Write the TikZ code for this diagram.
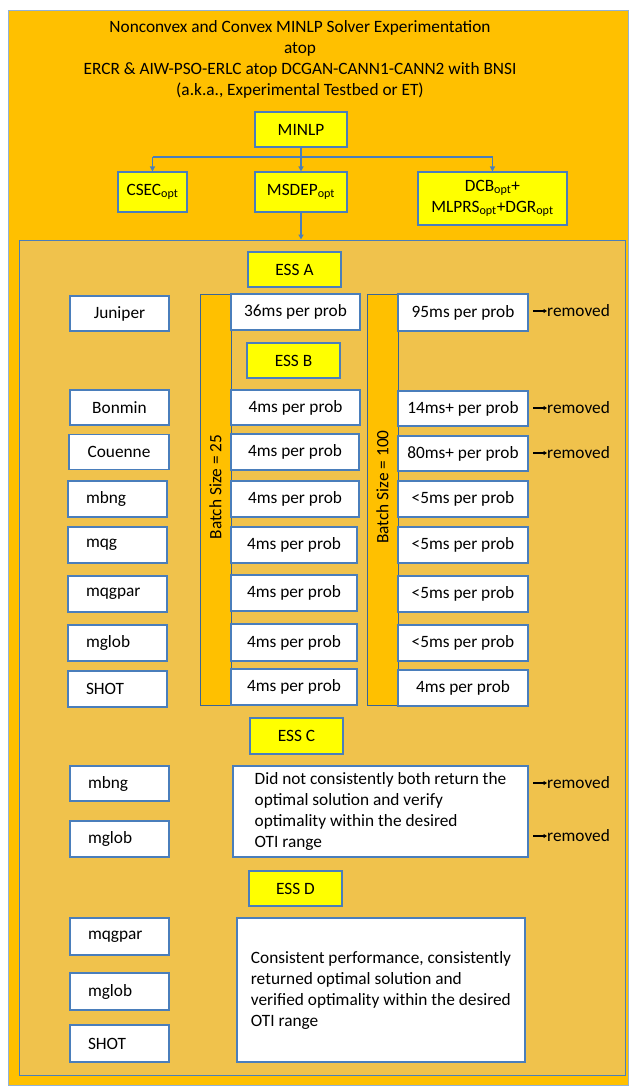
\documentclass[tikz,border=0pt]{standalone}
\usepackage{fontspec}
\setmainfont{Carlito}
\usetikzlibrary{arrows.meta}
\definecolor{outerfill}{HTML}{FFC000}
\definecolor{innerfill}{HTML}{F0C24C}
\definecolor{bluebd}{HTML}{4A7EBB}
\definecolor{ylw}{HTML}{FFFF00}
\begin{document}
\begin{tikzpicture}[x=1pt,y=-1pt,
  font=\fontsize{17.3}{21}\selectfont,
  bx/.style={draw=bluebd,line width=1.1pt,fill=white,inner sep=0pt},
  wh/.style 2 args={minimum width=#1,minimum height=#2},
  ybox/.style={bx,fill=ylw},
  solL/.style={bx,align=left,text width=63pt,inner xsep=18pt,minimum height=36pt},
  solC/.style={bx,align=center,text width=99pt,minimum height=35pt},
  tbox/.style={bx,align=center,minimum height=36pt},
  bar/.style={draw=bluebd!80!black,line width=1pt,fill=outerfill,minimum width=31pt,minimum height=411pt,inner sep=0pt},
  conn/.style={draw=bluebd,line width=1.3pt},
  arr/.style={conn,-{Triangle[length=5pt,width=5pt]}},
  rm/.style={anchor=west,inner sep=0pt},
  rmarr/.style={-{Triangle[length=3.5pt,width=4pt]},line width=1.1pt,black}]
\useasboundingbox (0,0) rectangle (634,1089);
% outer and inner panels
\node[draw=bluebd!60,line width=0.8pt,fill=outerfill,minimum width=620pt,minimum height=1075pt,inner sep=0pt] (outer) at (318,547.5) {};
\node[draw=bluebd,line width=1pt,fill=innerfill,minimum width=606pt,minimum height=835pt,inner sep=0pt] (inner) at (322,657.5) {};
% title
\node[align=center,inner sep=0pt] (title) at (300,59.5) {Nonconvex and Convex MINLP Solver Experimentation\\atop\\ERCR \& AIW-PSO-ERLC atop DCGAN-CANN1-CANN2 with BNSI\\(a.k.a., Experimental Testbed or ET)};
% top tree
\node[ybox,wh={92pt}{35pt}] (minlp) at (301,129.5) {MINLP};
\node[ybox,wh={69pt}{40pt}] (csec) at (152.5,192) {CSEC\textsubscript{opt}};
\node[ybox,wh={92pt}{40pt}] (msdep) at (301,192) {MSDEP\textsubscript{opt}};
\node[ybox,wh={149pt}{53pt},align=center] (dcb) at (492.5,198.5) {DCB\textsubscript{opt}+\\MLPRS\textsubscript{opt}+DGR\textsubscript{opt}};
\coordinate (split) at (301,157);
\coordinate (splitL) at (152.5,157);
\coordinate (splitR) at (492.5,157);
\draw[conn] (minlp.south) -- (split);
\draw[conn] (splitL) -- (splitR);
\draw[arr] (splitL) -- (csec.north);
\draw[arr] (split) -- (msdep.north);
\draw[arr] (splitR) -- (dcb.north);
\draw[arr] (msdep.south) -- (msdep.south |- inner.north);
% bars
\node[bar] (b25) at (215.5,499.5) {};
\node[rotate=90,inner sep=0pt] (b25t) at (215.5,487) {Batch Size = 25};
\node[bar] (b100) at (382.5,499.5) {};
\node[rotate=90,inner sep=0pt] (b100t) at (382.5,487) {Batch Size = 100};
% ESS A
\node[ybox,wh={93pt}{35pt}] (essA) at (294.5,269.5) {ESS A};
\node[solC] (jun) at (119.5,313.5) {Juniper};
\node[tbox,wh={129pt}{36pt}] (jun25) at (295.5,312) {36ms per prob};
\node[tbox,wh={130pt}{37pt}] (jun100) at (463,312.5) {95ms per prob};
% ESS B
\node[ybox,wh={93pt}{35pt}] (essB) at (293.5,360.5) {ESS B};
\node[solC] (bon) at (119.5,407.5) {Bonmin};
\node[tbox,wh={129pt}{35pt}] (bon25) at (295.5,407.5) {4ms per prob};
\node[tbox,wh={130pt}{35pt}] (bon100) at (463,408.5) {14ms+ per prob};
\node[solC,text width=100pt] (cou) at (119,452) {Couenne};
\node[tbox,wh={128pt}{36pt}] (cou25) at (295,452) {4ms per prob};
\node[tbox,wh={130pt}{35pt}] (cou100) at (463,453.5) {80ms+ per prob};
\node[solL] (mbng) at (117.5,499) {mbng};
\node[tbox,wh={128pt}{36pt}] (mbng25) at (295,499) {4ms per prob};
\node[tbox,wh={130pt}{36pt}] (mbng100) at (463,499) {<5ms per prob};
\node[solL] (mqg) at (117.5,545) {mqg};
\node[tbox,wh={126pt}{36pt}] (mqg25) at (294,545) {4ms per prob};
\node[tbox,wh={130pt}{36pt}] (mqg100) at (463,545) {<5ms per prob};
\node[solL] (mqgpar) at (117.5,594) {mqgpar};
\node[tbox,wh={126pt}{36pt}] (mqgpar25) at (294,593) {4ms per prob};
\node[tbox,wh={130pt}{36pt}] (mqgpar100) at (463,594) {<5ms per prob};
\node[solL] (mglob) at (117.5,643) {mglob};
\node[tbox,wh={126pt}{37pt}] (mglob25) at (294,642.5) {4ms per prob};
\node[tbox,wh={130pt}{36pt}] (mglob100) at (463,643) {<5ms per prob};
\node[solL] (shot) at (117.5,689) {SHOT};
\node[tbox,wh={126pt}{36pt}] (shot25) at (294,687) {4ms per prob};
\node[tbox,wh={130pt}{36pt}] (shot100) at (463,688) {4ms per prob};
% removed markers (B)
\node[rm] (rmA) at (547,311) {removed};
\coordinate (rmAs) at (533,311);
\draw[rmarr] (rmAs) -- (rmA.west);
\node[rm] (rmB1) at (547,408) {removed};
\coordinate (rmB1s) at (533,408);
\draw[rmarr] (rmB1s) -- (rmB1.west);
\node[rm] (rmB2) at (547,453) {removed};
\coordinate (rmB2s) at (533,453);
\draw[rmarr] (rmB2s) -- (rmB2.west);
% ESS C
\node[ybox,wh={93pt}{36pt}] (essC) at (296.5,736) {ESS C};
\node[solL,text width=63pt,minimum height=35pt] (mbngC) at (119.5,783.5) {mbng};
\node[solL] (mglobC) at (119.5,839) {mglob};
\node[bx,wh={295pt}{91pt},align=left] (boxC) at (380.5,811.5) {Did not consistently both return the\\optimal solution and verify\\optimality within the desired\\OTI range};
\node[rm] (rmC1) at (547,783) {removed};
\coordinate (rmC1s) at (533,783);
\draw[rmarr] (rmC1s) -- (rmC1.west);
\node[rm] (rmC2) at (547,836) {removed};
\coordinate (rmC2s) at (533,836);
\draw[rmarr] (rmC2s) -- (rmC2.west);
% ESS D
\node[ybox,wh={93pt}{35pt}] (essD) at (295.5,888.5) {ESS D};
\node[solL,minimum height=37pt] (mqgparD) at (119.5,936.5) {mqgpar};
\node[solL,minimum height=37pt] (mglobD) at (119.5,991.5) {mglob};
\node[solL,minimum height=37pt] (shotD) at (119.5,1043.5) {SHOT};
\node[bx,wh={288pt}{144pt},align=left] (boxD) at (381,990) {Consistent performance, consistently\\returned optimal solution and\\verified optimality within the desired\\OTI range};
\end{tikzpicture}
\end{document}
